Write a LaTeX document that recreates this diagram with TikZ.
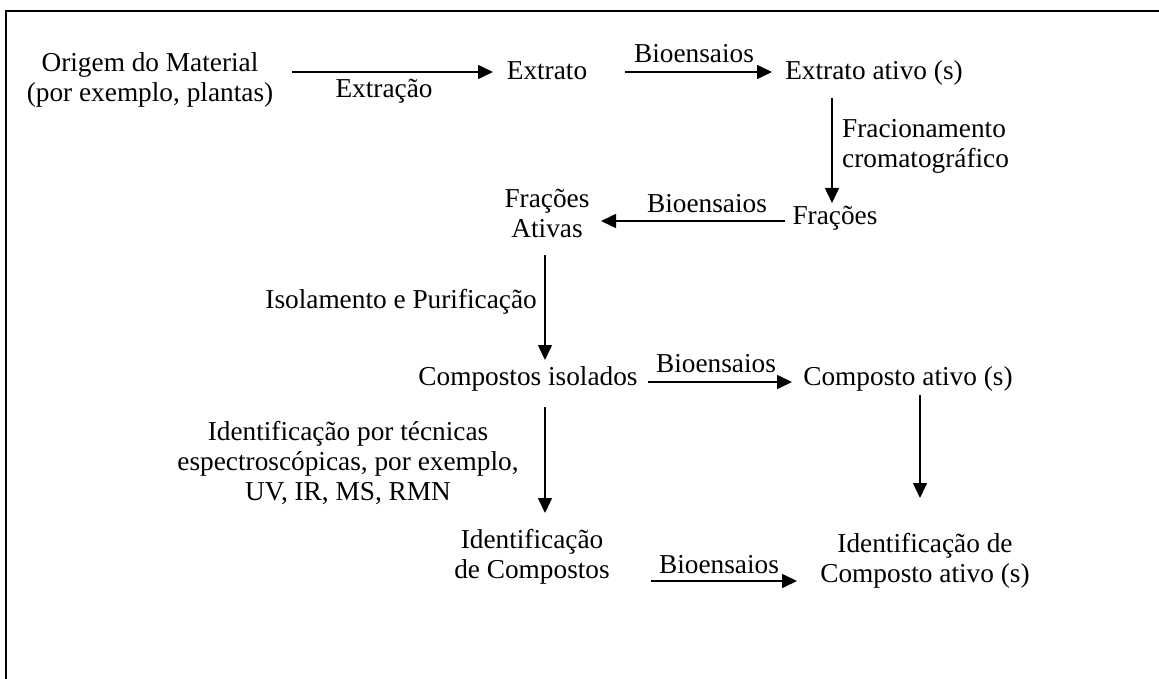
\documentclass[tikz,border=0pt]{standalone}
\usepackage{fontspec}
\setmainfont{Liberation Serif}
\usetikzlibrary{arrows.meta}
\begin{document}
\begin{tikzpicture}[x=1pt,y=-1pt,
  txt/.style={inner sep=0pt, font=\fontsize{27.3}{30}\selectfont, align=center},
  arr/.style={line width=1.6pt, -{Triangle[length=15pt,width=14pt]}},
  frame/.style={line width=2.4pt}]
\useasboundingbox (0,0) rectangle (1159,679);
% frame
\coordinate (fbl) at (6,679);
\coordinate (ftl) at (6,11);
\coordinate (ftr) at (1159,11);
\draw[frame] (fbl) -- (ftl) -- (ftr);
% nodes (anchor=base is the baseline of the last line)
\node[txt, anchor=base] (orig) at (150,102) {Origem do Material\\(por exemplo, plantas)};
\node[txt, anchor=base] (ext) at (547,80) {Extrato};
\node[txt, anchor=base] (lextr) at (384,98) {Extração};
\node[txt, anchor=base] (lbio1) at (694,63) {Bioensaios};
\node[txt, anchor=base] (extat) at (874,80) {Extrato ativo (s)};
\node[txt, anchor=base west, align=left] (lfrac) at (842,168) {Fracionamento\\cromatográfico};
\node[txt, anchor=base] (fr) at (835,225) {Frações};
\node[txt, anchor=base] (lbio2) at (707,212) {Bioensaios};
\node[txt, anchor=base] (frat) at (547,237) {Frações\\Ativas};
\node[txt, anchor=base east] (liso) at (537,308) {Isolamento e Purificação};
\node[txt, anchor=base] (comp) at (528,385) {Compostos isolados};
\node[txt, anchor=base] (lbio3) at (716,372) {Bioensaios};
\node[txt, anchor=base] (compat) at (908,385) {Composto ativo (s)};
\node[txt, anchor=base] (lident) at (348,500) {Identificação por técnicas\\espectroscópicas, por exemplo,\\UV, IR, MS, RMN};
\node[txt, anchor=base] (idc) at (532,578) {Identificação\\de Compostos};
\node[txt, anchor=base] (lbio4) at (719,573) {Bioensaios};
\node[txt, anchor=base] (idca) at (925,582) {Identificação de\\Composto ativo (s)};
% arrow end points
\coordinate (a1s) at (292,72);  \coordinate (a1e) at (493,72);
\coordinate (a2s) at (625,72);  \coordinate (a2e) at (772,72);
\coordinate (a3s) at (832,98);  \coordinate (a3e) at (832,203);
\coordinate (a4s) at (785,221); \coordinate (a4e) at (601,221);
\coordinate (a5s) at (545,255); \coordinate (a5e) at (545,360);
\coordinate (a6s) at (648,382); \coordinate (a6e) at (792,382);
\coordinate (a7s) at (920,395); \coordinate (a7e) at (920,498);
\coordinate (a8s) at (545,407); \coordinate (a8e) at (545,513);
\coordinate (a9s) at (651,581); \coordinate (a9e) at (797,581);
\draw[arr] (a1s) -- (a1e);
\draw[arr] (a2s) -- (a2e);
\draw[arr] (a3s) -- (a3e);
\draw[arr] (a4s) -- (a4e);
\draw[arr] (a5s) -- (a5e);
\draw[arr] (a6s) -- (a6e);
\draw[arr] (a7s) -- (a7e);
\draw[arr] (a8s) -- (a8e);
\draw[arr] (a9s) -- (a9e);
\end{tikzpicture}
\end{document}
